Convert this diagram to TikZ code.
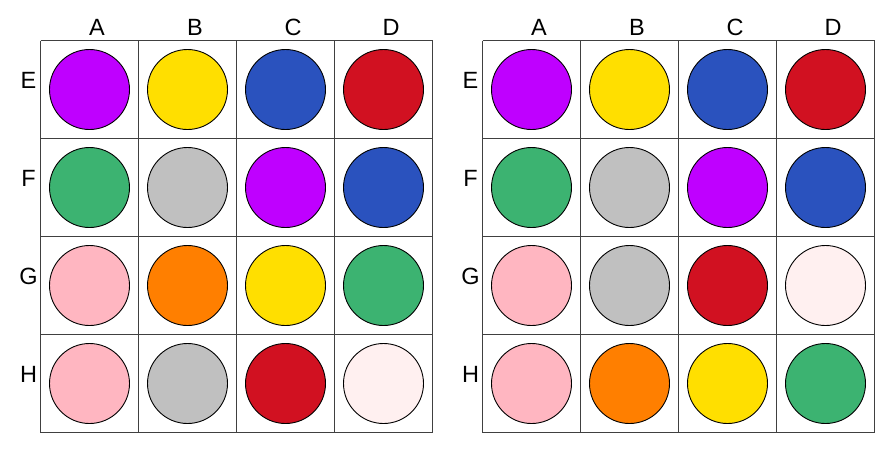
\documentclass[tikz,border=0pt]{standalone}
\usepackage{fontspec}
\setmainfont{Liberation Sans}
\definecolor{cpurple}{HTML}{BF00FF}
\definecolor{cyellow}{HTML}{FFDF00}
\definecolor{cblue}{HTML}{2A52BE}
\definecolor{cred}{HTML}{D11121}
\definecolor{cgreen}{HTML}{3CB371}
\definecolor{cgray}{HTML}{C0C0C0}
\definecolor{cpink}{HTML}{FFB6C1}
\definecolor{corange}{HTML}{FF7F00}
\definecolor{cpale}{HTML}{FFF0F0}
\definecolor{gridc}{HTML}{404040}
\newcommand\myplategrid[2]{% name, left x
  \foreach \i in {0,...,4}{
    \draw[gridline] (#2+98*\i,40.5) -- (#2+98*\i,432.5);
    \draw[gridline] (#2,40.5+98*\i) -- (#2+392,40.5+98*\i);
  }
  \foreach \c [count=\j from 0] in {A,B,C,D}{
    \node[lbl] (#1-col-\c) at (#2+56.5+98*\j,27) {\c};
  }
  \foreach \r [count=\k from 0] in {E,F,G,H}{
    \node[lbl] (#1-row-\r) at (#2-12,80.5+98*\k) {\r};
  }
}
\newcommand\mywellrow[4]{% name, left x, row index, colours
  \foreach \col [count=\j from 0] in {#4}{
    \node[well,fill=\col] (#1-#3-\j) at (#2+49+98*\j,89.5+98*#3) {};
  }
}
\begin{document}
\begin{tikzpicture}[x=1pt,y=-1pt,
  well/.style={circle,draw=black,line width=0.9pt,minimum size=80pt,inner sep=0pt},
  gridline/.style={draw=gridc,line width=1pt},
  lbl/.style={font=\fontsize{23.5}{24}\selectfont,inner sep=0pt,text=black}]
\useasboundingbox (0,0) rectangle (894,472);
\fill[white] (0,0) rectangle (894,472);
\myplategrid{L}{40.5}
\mywellrow{L}{40.5}{0}{cpurple,cyellow,cblue,cred}
\mywellrow{L}{40.5}{1}{cgreen,cgray,cpurple,cblue}
\mywellrow{L}{40.5}{2}{cpink,corange,cyellow,cgreen}
\mywellrow{L}{40.5}{3}{cpink,cgray,cred,cpale}
\myplategrid{R}{482.5}
\mywellrow{R}{482.5}{0}{cpurple,cyellow,cblue,cred}
\mywellrow{R}{482.5}{1}{cgreen,cgray,cpurple,cblue}
\mywellrow{R}{482.5}{2}{cpink,cgray,cred,cpale}
\mywellrow{R}{482.5}{3}{cpink,corange,cyellow,cgreen}
\end{tikzpicture}
\end{document}
